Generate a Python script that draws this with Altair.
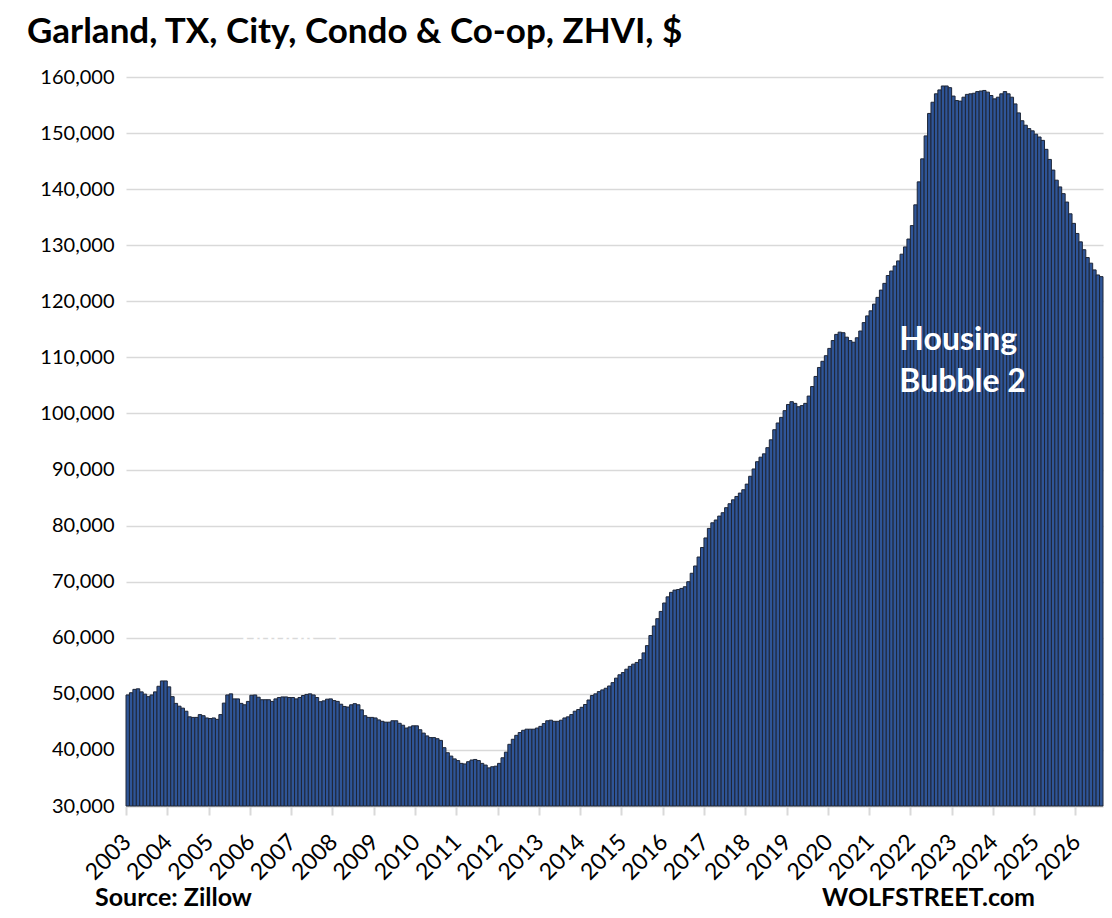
import altair as alt
import pandas as pd

# Monthly ZHVI values (USD), Jan 2003 .. Aug 2026
v2003 = [49800, 50200, 50800, 50900, 50350, 49950, 49500, 49800, 50350, 51350, 52300, 52300]
v2004 = [51250, 49500, 48300, 47800, 47450, 46900, 45900, 45800, 45800, 46300, 46100, 45700]
v2005 = [45600, 45700, 45450, 46300, 48350, 49800, 50000, 49100, 49100, 48300, 48050, 48650]
v2006 = [49750, 49800, 49400, 48950, 48950, 48950, 48650, 49100, 49350, 49450, 49450, 49350]
v2007 = [49350, 49100, 49350, 49700, 49900, 50000, 49800, 49350, 48600, 48750, 49050, 49100]
v2008 = [48800, 48650, 48150, 47750, 47650, 48050, 48250, 48050, 47150, 46100, 45800, 45800]
v2009 = [45700, 45350, 45100, 44950, 44950, 45200, 45200, 44750, 44400, 43900, 44100, 44300]
v2010 = [44300, 43600, 43000, 42500, 42200, 42200, 42000, 41700, 40400, 39500, 38900, 38400]
v2011 = [38100, 37600, 37500, 37900, 38200, 38300, 38100, 37600, 37300, 36800, 37000, 37100]
v2012 = [37600, 38600, 39600, 41000, 41900, 42600, 43100, 43500, 43700, 43700, 43700, 43900]
v2013 = [44200, 44700, 45200, 45300, 45100, 45100, 45300, 45700, 45900, 46300, 46900, 47200]
v2014 = [47600, 48100, 48900, 49700, 50000, 50400, 50700, 51000, 51400, 52000, 52800, 53400]
v2015 = [53800, 54400, 54900, 55300, 55600, 56100, 57300, 58600, 60400, 62100, 63400, 64700]
v2016 = [66200, 67300, 68100, 68500, 68600, 68800, 69100, 70000, 71500, 72800, 74400, 76100]
v2017 = [77800, 79500, 80500, 81000, 81700, 82300, 83200, 83900, 84600, 85200, 85800, 86400]
v2018 = [87400, 88800, 90100, 91400, 92200, 92800, 93900, 95300, 97100, 98300, 99300, 100500]
v2019 = [101600, 102100, 101800, 101200, 101400, 101800, 103100, 104800, 106600, 108200, 109300, 110300]
v2020 = [111600, 113000, 114100, 114500, 114400, 113600, 113000, 112700, 113500, 114700, 116200, 117400]
v2021 = [118300, 119500, 120700, 122000, 123200, 124600, 125400, 126300, 127200, 128400, 129700, 131100]
v2022 = [133500, 137200, 141300, 145400, 149500, 153500, 155500, 157000, 157700, 158400, 158400, 158100]
v2023 = [156600, 155800, 155700, 156400, 156900, 157000, 157100, 157400, 157500, 157600, 157300, 156700]
v2024 = [156100, 156400, 157000, 157400, 157000, 156400, 155200, 153600, 152200, 151400, 150800, 150400]
v2025 = [149800, 149300, 148700, 147100, 145300, 143400, 141600, 140400, 139200, 137700, 135600, 133900]
v2026 = [132100, 130600, 129200, 127800, 126800, 125600, 124700, 124400]

first_year = 2003
y_ticks = [30000, 40000, 50000, 60000, 70000, 80000, 90000, 100000,
           110000, 120000, 130000, 140000, 150000, 160000]

title_text = "Garland, TX, City, Condo & Co-op, ZHVI, $"
source_text = "Source: Zillow"
brand_text = "WOLFSTREET.com"
bubble_labels = ["Housing", "Bubble 2"]
bubble_pos_month = [224.8, 224.8]
bubble_pos_value = [111300, 103800]

series = (v2003 + v2004 + v2005 + v2006 + v2007 + v2008 + v2009 + v2010 + v2011 +
          v2012 + v2013 + v2014 + v2015 + v2016 + v2017 + v2018 + v2019 + v2020 +
          v2021 + v2022 + v2023 + v2024 + v2025 + v2026)
n = len(series)
df = pd.DataFrame({"m": list(range(n)), "v": series})

FONT = "Lato"
GRID = "#D9D9D9"

x_scale = alt.Scale(domain=[0, n], nice=False, zero=False)
y_scale = alt.Scale(domain=[30000, 160000], nice=False, zero=False)

bars = alt.Chart(df).transform_calculate(m2="datum.m + 1").mark_rect(
    fill="#2F5597", stroke="#1E2637", strokeWidth=1
).encode(
    x=alt.X("m:Q", scale=x_scale, title=None, axis=alt.Axis(
        values=list(range(0, n, 12)),
        labelExpr=f"toString({first_year} + floor(datum.value / 12))",
        labelAngle=-45, labelAlign="right", labelBaseline="middle",
        labelPadding=23, labelOffset=1,
        labelFont=FONT, labelFontSize=23, labelColor="#000000",
        labelOverlap=False, labelFlush=False,
        tickSize=9, tickWidth=2, tickColor=GRID,
        domainColor=GRID, domainWidth=2, grid=False)),
    x2="m2:Q",
    y=alt.Y("v:Q", scale=y_scale, title=None, axis=alt.Axis(
        values=y_ticks, format=",d",
        labelFont=FONT, labelFontSize=20, labelColor="#000000", labelPadding=12,
        tickSize=0, domain=False, grid=True, gridColor=GRID, gridWidth=1.5)),
    y2=alt.datum(30000),
)

ann_df = pd.DataFrame({"m": bubble_pos_month, "v": bubble_pos_value, "t": bubble_labels})
ann = alt.Chart(ann_df).mark_text(
    align="left", baseline="alphabetic", font=FONT, fontSize=32,
    fontWeight="bold", color="white"
).encode(x=alt.X("m:Q", title=None), y=alt.Y("v:Q", title=None), text="t:N")

hidden_df = pd.DataFrame({"m": [33.5], "v": [58900], "t": ["Bubble 1"]})
hidden = alt.Chart(hidden_df).mark_text(
    align="left", baseline="alphabetic", font=FONT, fontSize=26,
    fontWeight="bold", color="white"
).encode(x=alt.X("m:Q", title=None), y=alt.Y("v:Q", title=None), text="t:N")

title = alt.Chart(pd.DataFrame({"t": [title_text]})).mark_text(
    align="left", baseline="alphabetic", font=FONT, fontSize=35,
    fontWeight="bold", color="#000000"
).encode(x=alt.value(-99), y=alt.value(-34), text="t:N")

source = alt.Chart(pd.DataFrame({"t": [source_text]})).mark_text(
    align="left", baseline="alphabetic", font=FONT, fontSize=25,
    fontWeight="bold", color="#000000"
).encode(x=alt.value(-31), y=alt.value(829), text="t:N")

brand = alt.Chart(pd.DataFrame({"t": [brand_text]})).mark_text(
    align="left", baseline="alphabetic", font=FONT, fontSize=25,
    fontWeight="bold", color="#000000"
).encode(x=alt.value(696), y=alt.value(829), text="t:N")

chart = alt.layer(bars, ann, hidden, title, source, brand).properties(
    width=977, height=729,
    padding={"left": 118, "top": 69, "right": 1, "bottom": 104},
    autosize=alt.AutoSizeParams(type="none"),
    background="white",
).configure_view(stroke=None)

chart.save("out.html", embed_options={"renderer": "svg", "actions": False})
